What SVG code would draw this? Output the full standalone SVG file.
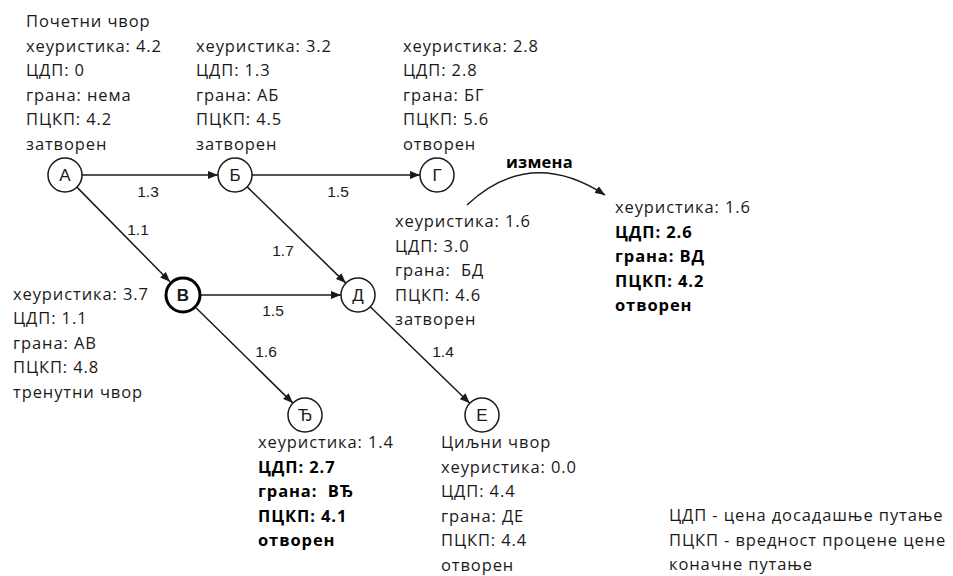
<svg xmlns="http://www.w3.org/2000/svg" width="953" height="576" viewBox="0 0 953 576">
<style>
.t{font-family:"Open Sans","Noto Sans","DejaVu Sans",sans-serif;font-size:16.5px;letter-spacing:0.9px;fill:#1a1a1a}
.b{font-weight:bold;fill:#000}
.n{fill:#fff;stroke:#1a1a1a;stroke-width:1.5}
.nb{fill:#fff;stroke:#000;stroke-width:3}
.nl{font-family:"Liberation Sans",Arial,sans-serif;font-size:17px;fill:#1a1a1a;text-anchor:middle}
.el{font-family:"Liberation Sans",Arial,sans-serif;font-size:15.5px;fill:#1a1a1a;text-anchor:middle}
.e{stroke:#1a1a1a;stroke-width:1.5;fill:none;marker-end:url(#arr)}
</style>
<defs>
<marker id="arr" viewBox="0 0 10 8" refX="10" refY="4" markerWidth="10" markerHeight="8" markerUnits="userSpaceOnUse" orient="auto">
<path d="M0,0 L10,4 L0,8 z" fill="#1a1a1a"/>
</marker>
</defs>
<rect width="953" height="576" fill="#fff"/>
<g id="connectors">
<line class="e" x1="82" y1="175" x2="218" y2="175"/>
<line class="e" x1="252" y1="175" x2="420" y2="175"/>
<line class="e" x1="76.9" y1="187.1" x2="170" y2="281.8"/>
<line class="e" x1="247.2" y1="186.9" x2="345.8" y2="283.1"/>
<line class="e" x1="201" y1="295" x2="341" y2="295"/>
<line class="e" x1="196.2" y1="308" x2="292.9" y2="403.1"/>
<line class="e" x1="370.2" y1="306.8" x2="469.8" y2="403.2"/>
<path class="e" d="M467,205 Q530,146 605,195"/>
<text class="el" x="148" y="197">1.3</text>
<text class="el" x="338" y="197">1.5</text>
<text class="el" x="138" y="235">1.1</text>
<text class="el" x="283" y="256">1.7</text>
<text class="el" x="273" y="316">1.5</text>
<text class="el" x="266" y="357">1.6</text>
<text class="el" x="443" y="357">1.4</text>
<text class="t b" x="506" y="168" style="letter-spacing:0.2px">измена</text>
</g>
<g id="node-A">
<circle class="n" cx="65" cy="175" r="17"/>
<text class="nl" x="65" y="181">А</text>
<text class="t" x="26" y="27">Почетни чвор</text>
<text class="t" x="26" y="51.5">хеуристика: 4.2</text>
<text class="t" x="26" y="76">ЦДП: 0</text>
<text class="t" x="26" y="100.5">грана: нема</text>
<text class="t" x="26" y="125">ПЦКП: 4.2</text>
<text class="t" x="26" y="149.5">затворен</text>
</g>
<g id="node-B">
<circle class="n" cx="235" cy="175" r="17"/>
<text class="nl" x="235" y="181">Б</text>
<text class="t" x="196" y="51.5">хеуристика: 3.2</text>
<text class="t" x="196" y="76">ЦДП: 1.3</text>
<text class="t" x="196" y="100.5">грана: АБ</text>
<text class="t" x="196" y="125">ПЦКП: 4.5</text>
<text class="t" x="196" y="149.5">затворен</text>
</g>
<g id="node-G">
<circle class="n" cx="437" cy="175" r="17"/>
<text class="nl" x="437" y="181">Г</text>
<text class="t" x="403" y="51.5">хеуристика: 2.8</text>
<text class="t" x="403" y="76">ЦДП: 2.8</text>
<text class="t" x="403" y="100.5">грана: БГ</text>
<text class="t" x="403" y="125">ПЦКП: 5.6</text>
<text class="t" x="403" y="149.5">отворен</text>
</g>
<g id="node-V">
<circle class="nb" cx="183" cy="295" r="17"/>
<text class="nl" x="183" y="301" font-weight="bold">В</text>
<text class="t" x="13" y="299.5">хеуристика: 3.7</text>
<text class="t" x="13" y="324">ЦДП: 1.1</text>
<text class="t" x="13" y="348.5">грана: АВ</text>
<text class="t" x="13" y="373">ПЦКП: 4.8</text>
<text class="t" x="13" y="397.5">тренутни чвор</text>
</g>
<g id="node-D">
<circle class="n" cx="358" cy="295" r="17"/>
<text class="nl" x="358" y="301">Д</text>
<text class="t" x="395" y="227">хеуристика: 1.6</text>
<text class="t" x="395" y="251.5">ЦДП: 3.0</text>
<text class="t" x="395" y="276" xml:space="preserve">грана:  БД</text>
<text class="t" x="395" y="300.5">ПЦКП: 4.6</text>
<text class="t" x="395" y="325">затворен</text>
</g>
<g id="node-D-change">
<text class="t" x="615" y="213">хеуристика: 1.6</text>
<text class="t b" x="615" y="237.5">ЦДП: 2.6</text>
<text class="t b" x="615" y="262">грана: ВД</text>
<text class="t b" x="615" y="286.5">ПЦКП: 4.2</text>
<text class="t b" x="615" y="311">отворен</text>
</g>
<g id="node-Dj">
<circle class="n" cx="305" cy="415" r="17"/>
<text class="nl" x="305" y="421">Ђ</text>
<text class="t" x="258" y="448">хеуристика: 1.4</text>
<text class="t b" x="258" y="472.5">ЦДП: 2.7</text>
<text class="t b" x="258" y="497" xml:space="preserve">грана:  ВЂ</text>
<text class="t b" x="258" y="521.5">ПЦКП: 4.1</text>
<text class="t b" x="258" y="546">отворен</text>
</g>
<g id="node-E">
<circle class="n" cx="482" cy="415" r="17"/>
<text class="nl" x="482" y="421">Е</text>
<text class="t" x="441" y="448">Циљни чвор</text>
<text class="t" x="441" y="472.5">хеуристика: 0.0</text>
<text class="t" x="441" y="497">ЦДП: 4.4</text>
<text class="t" x="441" y="521.5">грана: ДЕ</text>
<text class="t" x="441" y="546">ПЦКП: 4.4</text>
<text class="t" x="441" y="570.5">отворен</text>
</g>
<g id="legend">
<text class="t" x="669" y="521">ЦДП - цена досадашње путање</text>
<text class="t" x="669" y="545.5">ПЦКП - вредност процене цене</text>
<text class="t" x="669" y="570">коначне путање</text>
</g>
</svg>
